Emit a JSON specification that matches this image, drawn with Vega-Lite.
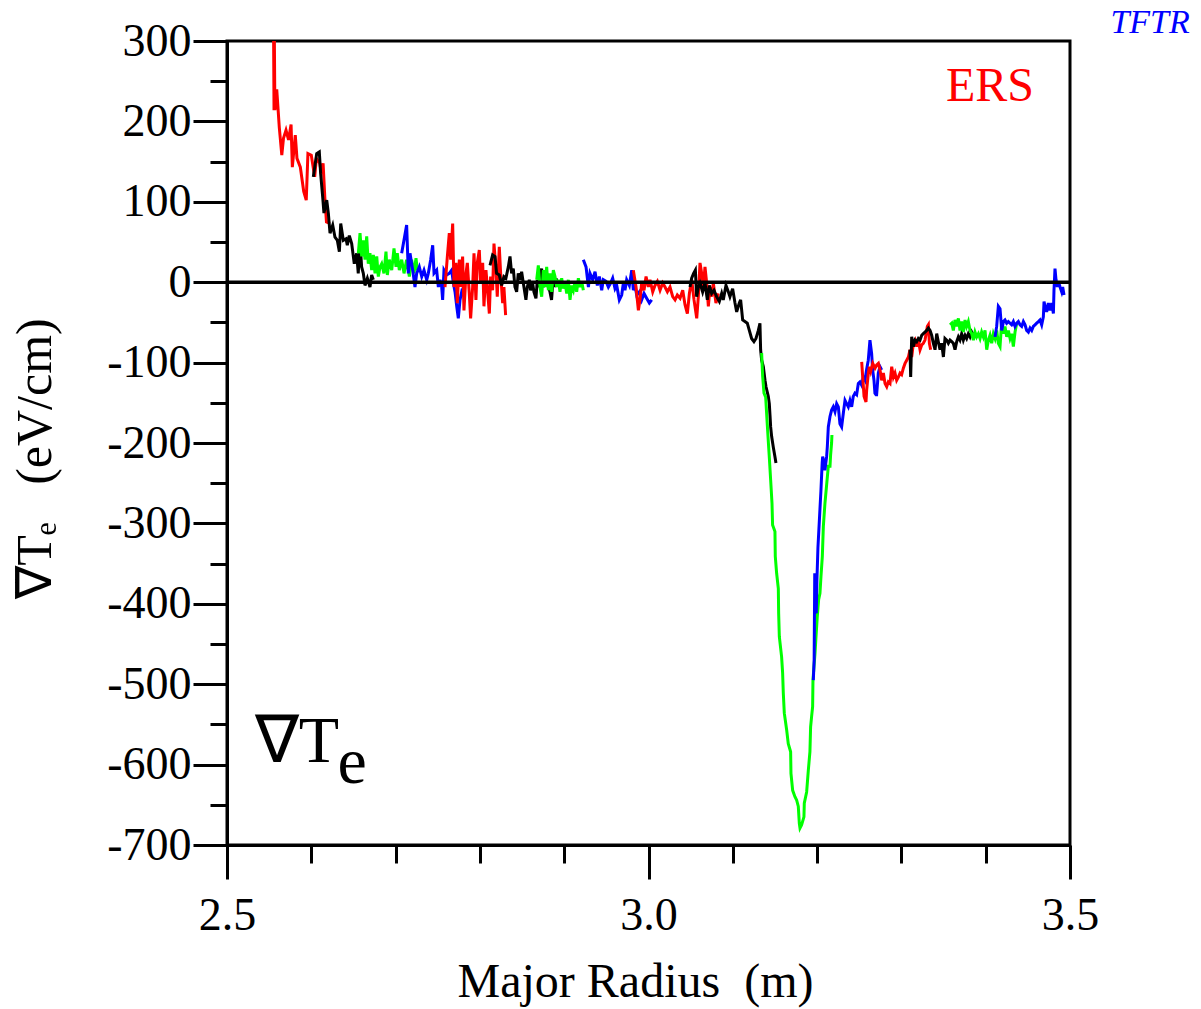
{
"$schema":"https://vega.github.io/schema/vega-lite/v6.json",
"width":843,"height":804,
"autosize":{"type":"none"},
"padding":{"left":227,"top":41,"right":131,"bottom":164},
"background":"white",
"config":{"view":{"stroke":"black","strokeWidth":3},"font":"Liberation Serif"},
"datasets":{"prof":[
{"seg":1,"chord":"a","R":2.5553,"dTe":300},{"seg":1,"chord":"a","R":2.5558,"dTe":214},{"seg":1,"chord":"a","R":2.5562,"dTe":300},{"seg":1,"chord":"a","R":2.5568,"dTe":214},{"seg":1,"chord":"a","R":2.559,"dTe":240},{"seg":1,"chord":"a","R":2.562,"dTe":193},{"seg":1,"chord":"a","R":2.565,"dTe":158},{"seg":1,"chord":"a","R":2.567,"dTe":179},{"seg":1,"chord":"a","R":2.570,"dTe":189},{"seg":1,"chord":"a","R":2.573,"dTe":177},{"seg":1,"chord":"a","R":2.576,"dTe":196},{"seg":1,"chord":"a","R":2.5775,"dTe":143},{"seg":1,"chord":"a","R":2.581,"dTe":183},{"seg":1,"chord":"a","R":2.583,"dTe":154},{"seg":1,"chord":"a","R":2.587,"dTe":143},{"seg":1,"chord":"a","R":2.591,"dTe":113},{"seg":1,"chord":"a","R":2.594,"dTe":102},{"seg":1,"chord":"a","R":2.596,"dTe":160},{"seg":1,"chord":"a","R":2.600,"dTe":158},{"seg":1,"chord":"a","R":2.604,"dTe":131},{"seg":1,"chord":"a","R":2.606,"dTe":154},{"seg":1,"chord":"a","R":2.610,"dTe":148},{"seg":1,"chord":"a","R":2.612,"dTe":135},{"seg":1,"chord":"a","R":2.614,"dTe":148},{"seg":1,"chord":"a","R":2.616,"dTe":106},{"seg":1,"chord":"a","R":2.618,"dTe":75},{"seg":1,"chord":"a","R":2.622,"dTe":73},
{"seg":2,"chord":"b","R":2.6024,"dTe":131},{"seg":2,"chord":"b","R":2.6064,"dTe":160},{"seg":2,"chord":"b","R":2.6095,"dTe":162},{"seg":2,"chord":"b","R":2.6111,"dTe":135},{"seg":2,"chord":"b","R":2.6135,"dTe":106},{"seg":2,"chord":"b","R":2.615,"dTe":86},{"seg":2,"chord":"b","R":2.6183,"dTe":102},{"seg":2,"chord":"b","R":2.6202,"dTe":86},{"seg":2,"chord":"b","R":2.6222,"dTe":61},{"seg":2,"chord":"b","R":2.6254,"dTe":71},{"seg":2,"chord":"b","R":2.6281,"dTe":56},{"seg":2,"chord":"b","R":2.6309,"dTe":52},{"seg":2,"chord":"b","R":2.6333,"dTe":38},{"seg":2,"chord":"b","R":2.6349,"dTe":73},{"seg":2,"chord":"b","R":2.638,"dTe":52},{"seg":2,"chord":"b","R":2.6412,"dTe":54},{"seg":2,"chord":"b","R":2.6427,"dTe":46},{"seg":2,"chord":"b","R":2.6451,"dTe":58},{"seg":2,"chord":"b","R":2.6479,"dTe":48},{"seg":2,"chord":"b","R":2.651,"dTe":23},{"seg":2,"chord":"b","R":2.6538,"dTe":36},{"seg":2,"chord":"b","R":2.6557,"dTe":11},{"seg":2,"chord":"b","R":2.6578,"dTe":50},{"seg":2,"chord":"b","R":2.6597,"dTe":19},{"seg":2,"chord":"b","R":2.6617,"dTe":11},{"seg":2,"chord":"b","R":2.6637,"dTe":-4},{"seg":2,"chord":"b","R":2.6665,"dTe":5},{"seg":2,"chord":"b","R":2.6696,"dTe":-6},{"seg":2,"chord":"b","R":2.6716,"dTe":9},{"seg":2,"chord":"b","R":2.6736,"dTe":3},
{"seg":3,"chord":"c","R":2.6558,"dTe":36},{"seg":3,"chord":"c","R":2.6578,"dTe":61},{"seg":3,"chord":"c","R":2.6598,"dTe":32},{"seg":3,"chord":"c","R":2.6617,"dTe":52},{"seg":3,"chord":"c","R":2.6637,"dTe":28},{"seg":3,"chord":"c","R":2.6657,"dTe":57},{"seg":3,"chord":"c","R":2.6676,"dTe":23},{"seg":3,"chord":"c","R":2.6696,"dTe":36},{"seg":3,"chord":"c","R":2.6716,"dTe":15},{"seg":3,"chord":"c","R":2.6736,"dTe":34},{"seg":3,"chord":"c","R":2.6756,"dTe":11},{"seg":3,"chord":"c","R":2.6776,"dTe":32},{"seg":3,"chord":"c","R":2.6795,"dTe":7},{"seg":3,"chord":"c","R":2.6815,"dTe":19},{"seg":3,"chord":"c","R":2.6835,"dTe":23},{"seg":3,"chord":"c","R":2.6862,"dTe":11},{"seg":3,"chord":"c","R":2.6886,"dTe":38},{"seg":3,"chord":"c","R":2.6902,"dTe":9},{"seg":3,"chord":"c","R":2.6925,"dTe":28},{"seg":3,"chord":"c","R":2.6954,"dTe":15},{"seg":3,"chord":"c","R":2.6981,"dTe":42},{"seg":3,"chord":"c","R":2.7005,"dTe":19},{"seg":3,"chord":"c","R":2.702,"dTe":36},{"seg":3,"chord":"c","R":2.7044,"dTe":15},{"seg":3,"chord":"c","R":2.7072,"dTe":28},{"seg":3,"chord":"c","R":2.71,"dTe":11},{"seg":3,"chord":"c","R":2.7131,"dTe":28},{"seg":3,"chord":"c","R":2.7163,"dTe":7},{"seg":3,"chord":"c","R":2.719,"dTe":28},{"seg":3,"chord":"c","R":2.7218,"dTe":11},{"seg":3,"chord":"c","R":2.7242,"dTe":30},{"seg":3,"chord":"c","R":2.7258,"dTe":15},
{"seg":4,"chord":"d","R":2.7072,"dTe":36},{"seg":4,"chord":"d","R":2.7131,"dTe":71},{"seg":4,"chord":"d","R":2.7151,"dTe":11},{"seg":4,"chord":"d","R":2.7171,"dTe":36},{"seg":4,"chord":"d","R":2.7203,"dTe":15},{"seg":4,"chord":"d","R":2.723,"dTe":-6},{"seg":4,"chord":"d","R":2.725,"dTe":11},{"seg":4,"chord":"d","R":2.7281,"dTe":19},{"seg":4,"chord":"d","R":2.731,"dTe":7},{"seg":4,"chord":"d","R":2.7337,"dTe":15},{"seg":4,"chord":"d","R":2.7369,"dTe":3},{"seg":4,"chord":"d","R":2.7388,"dTe":11},{"seg":4,"chord":"d","R":2.7416,"dTe":28},{"seg":4,"chord":"d","R":2.744,"dTe":46},{"seg":4,"chord":"d","R":2.7456,"dTe":11},{"seg":4,"chord":"d","R":2.7487,"dTe":15},{"seg":4,"chord":"d","R":2.7507,"dTe":-6},{"seg":4,"chord":"d","R":2.7527,"dTe":3},{"seg":4,"chord":"d","R":2.7547,"dTe":-6},{"seg":4,"chord":"d","R":2.7558,"dTe":-22},{"seg":4,"chord":"d","R":2.7574,"dTe":15},{"seg":4,"chord":"d","R":2.7606,"dTe":9},{"seg":4,"chord":"d","R":2.7637,"dTe":11},{"seg":4,"chord":"d","R":2.7665,"dTe":15},{"seg":4,"chord":"d","R":2.7685,"dTe":-1},{"seg":4,"chord":"d","R":2.7705,"dTe":-12},{"seg":4,"chord":"d","R":2.7725,"dTe":-30},{"seg":4,"chord":"d","R":2.7744,"dTe":-45},{"seg":4,"chord":"d","R":2.7764,"dTe":-22},{"seg":4,"chord":"d","R":2.7784,"dTe":-12},{"seg":4,"chord":"d","R":2.7803,"dTe":-16},{"seg":4,"chord":"d","R":2.7823,"dTe":-18},
{"seg":5,"chord":"a","R":2.7586,"dTe":-6},{"seg":5,"chord":"a","R":2.7614,"dTe":32},{"seg":5,"chord":"a","R":2.7637,"dTe":61},{"seg":5,"chord":"a","R":2.7653,"dTe":28},{"seg":5,"chord":"a","R":2.7677,"dTe":73},{"seg":5,"chord":"a","R":2.7693,"dTe":-6},{"seg":5,"chord":"a","R":2.7716,"dTe":24},{"seg":5,"chord":"a","R":2.7732,"dTe":-26},{"seg":5,"chord":"a","R":2.7756,"dTe":28},{"seg":5,"chord":"a","R":2.7772,"dTe":-6},{"seg":5,"chord":"a","R":2.7795,"dTe":32},{"seg":5,"chord":"a","R":2.7811,"dTe":-35},{"seg":5,"chord":"a","R":2.7835,"dTe":11},{"seg":5,"chord":"a","R":2.7851,"dTe":24},{"seg":5,"chord":"a","R":2.7874,"dTe":-14},{"seg":5,"chord":"a","R":2.789,"dTe":-45},{"seg":5,"chord":"a","R":2.7914,"dTe":-6},{"seg":5,"chord":"a","R":2.793,"dTe":36},{"seg":5,"chord":"a","R":2.7953,"dTe":-22},{"seg":5,"chord":"a","R":2.7969,"dTe":24},{"seg":5,"chord":"a","R":2.7993,"dTe":40},{"seg":5,"chord":"a","R":2.8009,"dTe":-1},{"seg":5,"chord":"a","R":2.8033,"dTe":24},{"seg":5,"chord":"a","R":2.8048,"dTe":-30},{"seg":5,"chord":"a","R":2.8072,"dTe":15},{"seg":5,"chord":"a","R":2.8088,"dTe":-6},{"seg":5,"chord":"a","R":2.8112,"dTe":-39},{"seg":5,"chord":"a","R":2.8127,"dTe":7},{"seg":5,"chord":"a","R":2.8151,"dTe":-10},{"seg":5,"chord":"a","R":2.8167,"dTe":48},{"seg":5,"chord":"a","R":2.8191,"dTe":15},{"seg":5,"chord":"a","R":2.8206,"dTe":-18},{"seg":5,"chord":"a","R":2.823,"dTe":44},{"seg":5,"chord":"a","R":2.8246,"dTe":11},{"seg":5,"chord":"a","R":2.827,"dTe":-26},{"seg":5,"chord":"a","R":2.8285,"dTe":-6},{"seg":5,"chord":"a","R":2.8305,"dTe":-41},
{"seg":6,"chord":"b","R":2.812,"dTe":21},{"seg":6,"chord":"b","R":2.8151,"dTe":34},{"seg":6,"chord":"b","R":2.8179,"dTe":32},{"seg":6,"chord":"b","R":2.8198,"dTe":11},{"seg":6,"chord":"b","R":2.823,"dTe":9},{"seg":6,"chord":"b","R":2.8258,"dTe":-4},{"seg":6,"chord":"b","R":2.8285,"dTe":7},{"seg":6,"chord":"b","R":2.8309,"dTe":5},{"seg":6,"chord":"b","R":2.8337,"dTe":19},{"seg":6,"chord":"b","R":2.8357,"dTe":32},{"seg":6,"chord":"b","R":2.8376,"dTe":11},{"seg":6,"chord":"b","R":2.8396,"dTe":17},{"seg":6,"chord":"b","R":2.8416,"dTe":-6},{"seg":6,"chord":"b","R":2.8436,"dTe":-12},{"seg":6,"chord":"b","R":2.8455,"dTe":11},{"seg":6,"chord":"b","R":2.8475,"dTe":3},{"seg":6,"chord":"b","R":2.8495,"dTe":13},{"seg":6,"chord":"b","R":2.8515,"dTe":-1},{"seg":6,"chord":"b","R":2.8546,"dTe":-22},{"seg":6,"chord":"b","R":2.8562,"dTe":-6},{"seg":6,"chord":"b","R":2.8586,"dTe":3},{"seg":6,"chord":"b","R":2.8601,"dTe":-10},{"seg":6,"chord":"b","R":2.8625,"dTe":-1},{"seg":6,"chord":"b","R":2.8641,"dTe":-12},{"seg":6,"chord":"b","R":2.8665,"dTe":-20},{"seg":6,"chord":"b","R":2.8681,"dTe":3},{"seg":6,"chord":"b","R":2.8704,"dTe":-6},{"seg":6,"chord":"b","R":2.8732,"dTe":17},{"seg":6,"chord":"b","R":2.8752,"dTe":-6},{"seg":6,"chord":"b","R":2.8771,"dTe":1},{"seg":6,"chord":"b","R":2.8791,"dTe":11},{"seg":6,"chord":"b","R":2.8811,"dTe":-6},{"seg":6,"chord":"b","R":2.8831,"dTe":-12},{"seg":6,"chord":"b","R":2.885,"dTe":-22},{"seg":6,"chord":"b","R":2.887,"dTe":7},{"seg":6,"chord":"b","R":2.889,"dTe":-6},{"seg":6,"chord":"b","R":2.891,"dTe":5},
{"seg":7,"chord":"c","R":2.8674,"dTe":3},{"seg":7,"chord":"c","R":2.8693,"dTe":21},{"seg":7,"chord":"c","R":2.8713,"dTe":-6},{"seg":7,"chord":"c","R":2.8733,"dTe":-18},{"seg":7,"chord":"c","R":2.8753,"dTe":15},{"seg":7,"chord":"c","R":2.8773,"dTe":-6},{"seg":7,"chord":"c","R":2.8792,"dTe":19},{"seg":7,"chord":"c","R":2.8812,"dTe":-10},{"seg":7,"chord":"c","R":2.8832,"dTe":11},{"seg":7,"chord":"c","R":2.8852,"dTe":-12},{"seg":7,"chord":"c","R":2.8871,"dTe":15},{"seg":7,"chord":"c","R":2.8891,"dTe":7},{"seg":7,"chord":"c","R":2.8911,"dTe":-6},{"seg":7,"chord":"c","R":2.8931,"dTe":3},{"seg":7,"chord":"c","R":2.895,"dTe":-12},{"seg":7,"chord":"c","R":2.897,"dTe":5},{"seg":7,"chord":"c","R":2.899,"dTe":-8},{"seg":7,"chord":"c","R":2.901,"dTe":-1},{"seg":7,"chord":"c","R":2.903,"dTe":-14},{"seg":7,"chord":"c","R":2.9049,"dTe":3},{"seg":7,"chord":"c","R":2.9069,"dTe":-22},{"seg":7,"chord":"c","R":2.9089,"dTe":-4},{"seg":7,"chord":"c","R":2.9109,"dTe":-10},{"seg":7,"chord":"c","R":2.9128,"dTe":1},{"seg":7,"chord":"c","R":2.9148,"dTe":-12},{"seg":7,"chord":"c","R":2.9168,"dTe":5},{"seg":7,"chord":"c","R":2.9188,"dTe":-6},{"seg":7,"chord":"c","R":2.9207,"dTe":1},{"seg":7,"chord":"c","R":2.9227,"dTe":-10},
{"seg":8,"chord":"d","R":2.9227,"dTe":28},{"seg":8,"chord":"d","R":2.9259,"dTe":19},{"seg":8,"chord":"d","R":2.9287,"dTe":-6},{"seg":8,"chord":"d","R":2.9306,"dTe":11},{"seg":8,"chord":"d","R":2.9338,"dTe":3},{"seg":8,"chord":"d","R":2.9366,"dTe":13},{"seg":8,"chord":"d","R":2.9393,"dTe":-4},{"seg":8,"chord":"d","R":2.9417,"dTe":7},{"seg":8,"chord":"d","R":2.9445,"dTe":-10},{"seg":8,"chord":"d","R":2.9464,"dTe":3},{"seg":8,"chord":"d","R":2.9496,"dTe":1},{"seg":8,"chord":"d","R":2.9524,"dTe":-6},{"seg":8,"chord":"d","R":2.9551,"dTe":-1},{"seg":8,"chord":"d","R":2.9575,"dTe":5},{"seg":8,"chord":"d","R":2.9603,"dTe":-8},{"seg":8,"chord":"d","R":2.9623,"dTe":-4},{"seg":8,"chord":"d","R":2.9654,"dTe":-22},{"seg":8,"chord":"d","R":2.9682,"dTe":-16},{"seg":8,"chord":"d","R":2.9702,"dTe":-1},{"seg":8,"chord":"d","R":2.9721,"dTe":-10},{"seg":8,"chord":"d","R":2.9741,"dTe":3},{"seg":8,"chord":"d","R":2.9773,"dTe":-4},{"seg":8,"chord":"d","R":2.9801,"dTe":15},{"seg":8,"chord":"d","R":2.982,"dTe":-10},{"seg":8,"chord":"d","R":2.984,"dTe":-4},{"seg":8,"chord":"d","R":2.986,"dTe":-16},{"seg":8,"chord":"d","R":2.9891,"dTe":-12},{"seg":8,"chord":"d","R":2.9919,"dTe":-22},{"seg":8,"chord":"d","R":2.9947,"dTe":-14},{"seg":8,"chord":"d","R":2.9978,"dTe":-20},{"seg":8,"chord":"d","R":3.001,"dTe":-26},{"seg":8,"chord":"d","R":3.0038,"dTe":-22},
{"seg":9,"chord":"a","R":2.982,"dTe":15},{"seg":9,"chord":"a","R":2.9852,"dTe":-6},{"seg":9,"chord":"a","R":2.988,"dTe":-35},{"seg":9,"chord":"a","R":2.9899,"dTe":-22},{"seg":9,"chord":"a","R":2.9919,"dTe":-1},{"seg":9,"chord":"a","R":2.9947,"dTe":-10},{"seg":9,"chord":"a","R":2.9971,"dTe":7},{"seg":9,"chord":"a","R":2.9998,"dTe":-6},{"seg":9,"chord":"a","R":3.0018,"dTe":3},{"seg":9,"chord":"a","R":3.005,"dTe":-12},{"seg":9,"chord":"a","R":3.0077,"dTe":-4},{"seg":9,"chord":"a","R":3.0105,"dTe":1},{"seg":9,"chord":"a","R":3.0137,"dTe":-10},{"seg":9,"chord":"a","R":3.0168,"dTe":-1},{"seg":9,"chord":"a","R":3.0196,"dTe":-6},{"seg":9,"chord":"a","R":3.0224,"dTe":-12},{"seg":9,"chord":"a","R":3.0255,"dTe":-6},{"seg":9,"chord":"a","R":3.0287,"dTe":-18},{"seg":9,"chord":"a","R":3.0315,"dTe":-22},{"seg":9,"chord":"a","R":3.0342,"dTe":-16},{"seg":9,"chord":"a","R":3.0374,"dTe":-20},{"seg":9,"chord":"a","R":3.0406,"dTe":-10},{"seg":9,"chord":"a","R":3.0433,"dTe":-28},{"seg":9,"chord":"a","R":3.0461,"dTe":-39},{"seg":9,"chord":"a","R":3.0485,"dTe":-14},{"seg":9,"chord":"a","R":3.0512,"dTe":3},{"seg":9,"chord":"a","R":3.054,"dTe":-22},{"seg":9,"chord":"a","R":3.0572,"dTe":-45},{"seg":9,"chord":"a","R":3.0591,"dTe":-18},{"seg":9,"chord":"a","R":3.0611,"dTe":24},{"seg":9,"chord":"a","R":3.0631,"dTe":11},{"seg":9,"chord":"a","R":3.0651,"dTe":-6},{"seg":9,"chord":"a","R":3.067,"dTe":19},{"seg":9,"chord":"a","R":3.069,"dTe":-1},{"seg":9,"chord":"a","R":3.071,"dTe":-30},{"seg":9,"chord":"a","R":3.073,"dTe":-6},{"seg":9,"chord":"a","R":3.0749,"dTe":-18},{"seg":9,"chord":"a","R":3.0769,"dTe":-1},{"seg":9,"chord":"a","R":3.08,"dTe":-26},{"seg":9,"chord":"a","R":3.0828,"dTe":-14},
{"seg":10,"chord":"b","R":3.0492,"dTe":-6},{"seg":10,"chord":"b","R":3.0512,"dTe":5},{"seg":10,"chord":"b","R":3.0535,"dTe":11},{"seg":10,"chord":"b","R":3.0556,"dTe":15},{"seg":10,"chord":"b","R":3.0571,"dTe":-18},{"seg":10,"chord":"b","R":3.0591,"dTe":-6},{"seg":10,"chord":"b","R":3.0611,"dTe":-1},{"seg":10,"chord":"b","R":3.0642,"dTe":-12},{"seg":10,"chord":"b","R":3.067,"dTe":-1},{"seg":10,"chord":"b","R":3.0698,"dTe":-22},{"seg":10,"chord":"b","R":3.0721,"dTe":-4},{"seg":10,"chord":"b","R":3.0749,"dTe":-14},{"seg":10,"chord":"b","R":3.0777,"dTe":-10},{"seg":10,"chord":"b","R":3.0808,"dTe":-18},{"seg":10,"chord":"b","R":3.084,"dTe":-24},{"seg":10,"chord":"b","R":3.0868,"dTe":-14},{"seg":10,"chord":"b","R":3.0887,"dTe":-22},{"seg":10,"chord":"b","R":3.0919,"dTe":-4},{"seg":10,"chord":"b","R":3.0947,"dTe":-12},{"seg":10,"chord":"b","R":3.0966,"dTe":-18},{"seg":10,"chord":"b","R":3.0998,"dTe":-8},{"seg":10,"chord":"b","R":3.1026,"dTe":-26},{"seg":10,"chord":"b","R":3.1046,"dTe":-37},{"seg":10,"chord":"b","R":3.1077,"dTe":-26},{"seg":10,"chord":"b","R":3.1093,"dTe":-22},{"seg":10,"chord":"b","R":3.1117,"dTe":-47},{"seg":10,"chord":"b","R":3.1144,"dTe":-49},{"seg":10,"chord":"b","R":3.1172,"dTe":-51},{"seg":10,"chord":"b","R":3.1196,"dTe":-60},{"seg":10,"chord":"b","R":3.1223,"dTe":-70},{"seg":10,"chord":"b","R":3.1251,"dTe":-74},{"seg":10,"chord":"b","R":3.1275,"dTe":-70},{"seg":10,"chord":"b","R":3.1303,"dTe":-60},{"seg":10,"chord":"b","R":3.1322,"dTe":-51},{"seg":10,"chord":"b","R":3.133,"dTe":-84},{"seg":10,"chord":"b","R":3.1342,"dTe":-97},{"seg":10,"chord":"b","R":3.1362,"dTe":-105},{"seg":10,"chord":"b","R":3.1382,"dTe":-122},{"seg":10,"chord":"b","R":3.1394,"dTe":-130},{"seg":10,"chord":"b","R":3.1421,"dTe":-142},{"seg":10,"chord":"b","R":3.1433,"dTe":-151},{"seg":10,"chord":"b","R":3.1441,"dTe":-165},{"seg":10,"chord":"b","R":3.1449,"dTe":-180},{"seg":10,"chord":"b","R":3.1461,"dTe":-192},{"seg":10,"chord":"b","R":3.148,"dTe":-205},{"seg":10,"chord":"b","R":3.15,"dTe":-217},{"seg":10,"chord":"b","R":3.1512,"dTe":-225},
{"seg":11,"chord":"c","R":3.1342,"dTe":-88},{"seg":11,"chord":"c","R":3.1354,"dTe":-117},{"seg":11,"chord":"c","R":3.137,"dTe":-138},{"seg":11,"chord":"c","R":3.139,"dTe":-143},{"seg":11,"chord":"c","R":3.1405,"dTe":-170},{"seg":11,"chord":"c","R":3.142,"dTe":-196},{"seg":11,"chord":"c","R":3.1435,"dTe":-221},{"seg":11,"chord":"c","R":3.1449,"dTe":-246},{"seg":11,"chord":"c","R":3.1465,"dTe":-275},{"seg":11,"chord":"c","R":3.1472,"dTe":-302},{"seg":11,"chord":"c","R":3.15,"dTe":-310},{"seg":11,"chord":"c","R":3.1504,"dTe":-341},{"seg":11,"chord":"c","R":3.152,"dTe":-362},{"seg":11,"chord":"c","R":3.154,"dTe":-381},{"seg":11,"chord":"c","R":3.1544,"dTe":-412},{"seg":11,"chord":"c","R":3.1552,"dTe":-441},{"seg":11,"chord":"c","R":3.1579,"dTe":-466},{"seg":11,"chord":"c","R":3.1591,"dTe":-486},{"seg":11,"chord":"c","R":3.1599,"dTe":-511},{"seg":11,"chord":"c","R":3.1611,"dTe":-536},{"seg":11,"chord":"c","R":3.1639,"dTe":-557},{"seg":11,"chord":"c","R":3.1658,"dTe":-574},{"seg":11,"chord":"c","R":3.1686,"dTe":-584},{"seg":11,"chord":"c","R":3.169,"dTe":-611},{"seg":11,"chord":"c","R":3.171,"dTe":-632},{"seg":11,"chord":"c","R":3.1737,"dTe":-640},{"seg":11,"chord":"c","R":3.1757,"dTe":-644},{"seg":11,"chord":"c","R":3.1777,"dTe":-652},{"seg":11,"chord":"c","R":3.1789,"dTe":-673},{"seg":11,"chord":"c","R":3.1797,"dTe":-679},{"seg":11,"chord":"c","R":3.1816,"dTe":-675},{"seg":11,"chord":"c","R":3.1844,"dTe":-665},{"seg":11,"chord":"c","R":3.1848,"dTe":-648},{"seg":11,"chord":"c","R":3.1876,"dTe":-634},{"seg":11,"chord":"c","R":3.1896,"dTe":-607},{"seg":11,"chord":"c","R":3.1915,"dTe":-584},{"seg":11,"chord":"c","R":3.1923,"dTe":-553},{"seg":11,"chord":"c","R":3.1935,"dTe":-540},{"seg":11,"chord":"c","R":3.1947,"dTe":-528},{"seg":11,"chord":"c","R":3.1951,"dTe":-495},{"seg":11,"chord":"c","R":3.1963,"dTe":-478},{"seg":11,"chord":"c","R":3.1975,"dTe":-462},{"seg":11,"chord":"c","R":3.1987,"dTe":-441},{"seg":11,"chord":"c","R":3.2002,"dTe":-416},{"seg":11,"chord":"c","R":3.2018,"dTe":-395},{"seg":11,"chord":"c","R":3.2034,"dTe":-387},{"seg":11,"chord":"c","R":3.2046,"dTe":-366},{"seg":11,"chord":"c","R":3.2062,"dTe":-341},{"seg":11,"chord":"c","R":3.2074,"dTe":-304},{"seg":11,"chord":"c","R":3.2093,"dTe":-275},{"seg":11,"chord":"c","R":3.2113,"dTe":-252},{"seg":11,"chord":"c","R":3.2133,"dTe":-229},{"seg":11,"chord":"c","R":3.2153,"dTe":-229},{"seg":11,"chord":"c","R":3.216,"dTe":-215},{"seg":11,"chord":"c","R":3.2172,"dTe":-200},{"seg":11,"chord":"c","R":3.2176,"dTe":-190},
{"seg":12,"chord":"d","R":3.1955,"dTe":-495},{"seg":12,"chord":"d","R":3.1965,"dTe":-470},{"seg":12,"chord":"d","R":3.1972,"dTe":-362},{"seg":12,"chord":"d","R":3.198,"dTe":-400},{"seg":12,"chord":"d","R":3.199,"dTe":-412},{"seg":12,"chord":"d","R":3.1998,"dTe":-370},{"seg":12,"chord":"d","R":3.201,"dTe":-330},{"seg":12,"chord":"d","R":3.203,"dTe":-290},{"seg":12,"chord":"d","R":3.2045,"dTe":-260},{"seg":12,"chord":"d","R":3.206,"dTe":-225},{"seg":12,"chord":"d","R":3.2066,"dTe":-217},{"seg":12,"chord":"d","R":3.208,"dTe":-222},{"seg":12,"chord":"d","R":3.2093,"dTe":-234},{"seg":12,"chord":"d","R":3.2113,"dTe":-217},{"seg":12,"chord":"d","R":3.2121,"dTe":-205},{"seg":12,"chord":"d","R":3.2133,"dTe":-180},{"seg":12,"chord":"d","R":3.2153,"dTe":-167},{"seg":12,"chord":"d","R":3.2172,"dTe":-159},{"seg":12,"chord":"d","R":3.2192,"dTe":-155},{"seg":12,"chord":"d","R":3.2212,"dTe":-161},{"seg":12,"chord":"d","R":3.2232,"dTe":-151},{"seg":12,"chord":"d","R":3.2252,"dTe":-155},{"seg":12,"chord":"d","R":3.2271,"dTe":-176},{"seg":12,"chord":"d","R":3.2291,"dTe":-180},{"seg":12,"chord":"d","R":3.2311,"dTe":-163},{"seg":12,"chord":"d","R":3.2331,"dTe":-147},{"seg":12,"chord":"d","R":3.235,"dTe":-151},{"seg":12,"chord":"d","R":3.237,"dTe":-155},{"seg":12,"chord":"d","R":3.239,"dTe":-147},{"seg":12,"chord":"d","R":3.241,"dTe":-155},{"seg":12,"chord":"d","R":3.2429,"dTe":-142},{"seg":12,"chord":"d","R":3.2449,"dTe":-138},{"seg":12,"chord":"d","R":3.2469,"dTe":-140},{"seg":12,"chord":"d","R":3.2489,"dTe":-126},{"seg":12,"chord":"d","R":3.2508,"dTe":-124},{"seg":12,"chord":"d","R":3.2528,"dTe":-128},{"seg":12,"chord":"d","R":3.2548,"dTe":-118},{"seg":12,"chord":"d","R":3.2568,"dTe":-122},{"seg":12,"chord":"d","R":3.2587,"dTe":-109},{"seg":12,"chord":"d","R":3.2607,"dTe":-97},{"seg":12,"chord":"d","R":3.2627,"dTe":-72},{"seg":12,"chord":"d","R":3.2647,"dTe":-89},{"seg":12,"chord":"d","R":3.2659,"dTe":-109},{"seg":12,"chord":"d","R":3.2675,"dTe":-122},{"seg":12,"chord":"d","R":3.2686,"dTe":-138},{"seg":12,"chord":"d","R":3.2699,"dTe":-140},{"seg":12,"chord":"d","R":3.2706,"dTe":-140},{"seg":12,"chord":"d","R":3.2726,"dTe":-113},{"seg":12,"chord":"d","R":3.2746,"dTe":-105},{"seg":12,"chord":"d","R":3.2766,"dTe":-109},
{"seg":13,"chord":"a","R":3.2529,"dTe":-99},{"seg":13,"chord":"a","R":3.2541,"dTe":-118},{"seg":13,"chord":"a","R":3.2557,"dTe":-142},{"seg":13,"chord":"a","R":3.258,"dTe":-149},{"seg":13,"chord":"a","R":3.2588,"dTe":-134},{"seg":13,"chord":"a","R":3.2608,"dTe":-113},{"seg":13,"chord":"a","R":3.262,"dTe":-105},{"seg":13,"chord":"a","R":3.2636,"dTe":-111},{"seg":13,"chord":"a","R":3.266,"dTe":-101},{"seg":13,"chord":"a","R":3.2687,"dTe":-107},{"seg":13,"chord":"a","R":3.2707,"dTe":-103},{"seg":13,"chord":"a","R":3.2727,"dTe":-101},{"seg":13,"chord":"a","R":3.2746,"dTe":-109},{"seg":13,"chord":"a","R":3.2766,"dTe":-122},{"seg":13,"chord":"a","R":3.2786,"dTe":-113},{"seg":13,"chord":"a","R":3.2806,"dTe":-126},{"seg":13,"chord":"a","R":3.2826,"dTe":-130},{"seg":13,"chord":"a","R":3.2845,"dTe":-124},{"seg":13,"chord":"a","R":3.2865,"dTe":-126},{"seg":13,"chord":"a","R":3.2885,"dTe":-105},{"seg":13,"chord":"a","R":3.2905,"dTe":-118},{"seg":13,"chord":"a","R":3.2924,"dTe":-113},{"seg":13,"chord":"a","R":3.2944,"dTe":-122},{"seg":13,"chord":"a","R":3.2964,"dTe":-118},{"seg":13,"chord":"a","R":3.2984,"dTe":-113},{"seg":13,"chord":"a","R":3.3003,"dTe":-115},{"seg":13,"chord":"a","R":3.3023,"dTe":-107},{"seg":13,"chord":"a","R":3.3043,"dTe":-101},{"seg":13,"chord":"a","R":3.3063,"dTe":-97},{"seg":13,"chord":"a","R":3.3083,"dTe":-93},{"seg":13,"chord":"a","R":3.3102,"dTe":-84},{"seg":13,"chord":"a","R":3.3122,"dTe":-93},{"seg":13,"chord":"a","R":3.3142,"dTe":-76},{"seg":13,"chord":"a","R":3.3162,"dTe":-72},{"seg":13,"chord":"a","R":3.3181,"dTe":-80},{"seg":13,"chord":"a","R":3.3201,"dTe":-72},{"seg":13,"chord":"a","R":3.3221,"dTe":-84},{"seg":13,"chord":"a","R":3.3241,"dTe":-78},{"seg":13,"chord":"a","R":3.326,"dTe":-76},{"seg":13,"chord":"a","R":3.328,"dTe":-72},{"seg":13,"chord":"a","R":3.3308,"dTe":-55},{"seg":13,"chord":"a","R":3.332,"dTe":-53},{"seg":13,"chord":"a","R":3.3332,"dTe":-76},{"seg":13,"chord":"a","R":3.3347,"dTe":-84},
{"seg":14,"chord":"b","R":3.3102,"dTe":-84},{"seg":14,"chord":"b","R":3.311,"dTe":-118},{"seg":14,"chord":"b","R":3.3122,"dTe":-68},{"seg":14,"chord":"b","R":3.3142,"dTe":-80},{"seg":14,"chord":"b","R":3.3162,"dTe":-72},{"seg":14,"chord":"b","R":3.3181,"dTe":-74},{"seg":14,"chord":"b","R":3.3201,"dTe":-70},{"seg":14,"chord":"b","R":3.3221,"dTe":-72},{"seg":14,"chord":"b","R":3.3241,"dTe":-66},{"seg":14,"chord":"b","R":3.326,"dTe":-64},{"seg":14,"chord":"b","R":3.328,"dTe":-62},{"seg":14,"chord":"b","R":3.33,"dTe":-60},{"seg":14,"chord":"b","R":3.332,"dTe":-57},{"seg":14,"chord":"b","R":3.334,"dTe":-60},{"seg":14,"chord":"b","R":3.3359,"dTe":-66},{"seg":14,"chord":"b","R":3.3379,"dTe":-76},{"seg":14,"chord":"b","R":3.3399,"dTe":-84},{"seg":14,"chord":"b","R":3.3419,"dTe":-64},{"seg":14,"chord":"b","R":3.3438,"dTe":-74},{"seg":14,"chord":"b","R":3.3458,"dTe":-84},{"seg":14,"chord":"b","R":3.3478,"dTe":-76},{"seg":14,"chord":"b","R":3.3498,"dTe":-93},{"seg":14,"chord":"b","R":3.3517,"dTe":-70},{"seg":14,"chord":"b","R":3.3537,"dTe":-72},{"seg":14,"chord":"b","R":3.3557,"dTe":-76},{"seg":14,"chord":"b","R":3.3577,"dTe":-72},{"seg":14,"chord":"b","R":3.3597,"dTe":-74},{"seg":14,"chord":"b","R":3.3616,"dTe":-76},{"seg":14,"chord":"b","R":3.3636,"dTe":-84},{"seg":14,"chord":"b","R":3.3656,"dTe":-74},{"seg":14,"chord":"b","R":3.3676,"dTe":-68},{"seg":14,"chord":"b","R":3.3695,"dTe":-72},{"seg":14,"chord":"b","R":3.3715,"dTe":-64},{"seg":14,"chord":"b","R":3.3735,"dTe":-72},{"seg":14,"chord":"b","R":3.3755,"dTe":-66},{"seg":14,"chord":"b","R":3.3774,"dTe":-70},{"seg":14,"chord":"b","R":3.3794,"dTe":-64},{"seg":14,"chord":"b","R":3.3814,"dTe":-68},{"seg":14,"chord":"b","R":3.3834,"dTe":-62},{"seg":14,"chord":"b","R":3.3854,"dTe":-66},{"seg":14,"chord":"b","R":3.3873,"dTe":-64},{"seg":14,"chord":"b","R":3.3893,"dTe":-68},
{"seg":15,"chord":"c","R":3.3577,"dTe":-53},{"seg":15,"chord":"c","R":3.3597,"dTe":-51},{"seg":15,"chord":"c","R":3.3616,"dTe":-60},{"seg":15,"chord":"c","R":3.3636,"dTe":-47},{"seg":15,"chord":"c","R":3.3656,"dTe":-55},{"seg":15,"chord":"c","R":3.3676,"dTe":-45},{"seg":15,"chord":"c","R":3.3695,"dTe":-60},{"seg":15,"chord":"c","R":3.3715,"dTe":-49},{"seg":15,"chord":"c","R":3.3735,"dTe":-62},{"seg":15,"chord":"c","R":3.3755,"dTe":-47},{"seg":15,"chord":"c","R":3.3774,"dTe":-55},{"seg":15,"chord":"c","R":3.3794,"dTe":-49},{"seg":15,"chord":"c","R":3.3814,"dTe":-60},{"seg":15,"chord":"c","R":3.3834,"dTe":-64},{"seg":15,"chord":"c","R":3.3854,"dTe":-72},{"seg":15,"chord":"c","R":3.3873,"dTe":-62},{"seg":15,"chord":"c","R":3.3893,"dTe":-68},{"seg":15,"chord":"c","R":3.3913,"dTe":-64},{"seg":15,"chord":"c","R":3.3933,"dTe":-70},{"seg":15,"chord":"c","R":3.3952,"dTe":-62},{"seg":15,"chord":"c","R":3.3972,"dTe":-68},{"seg":15,"chord":"c","R":3.3992,"dTe":-60},{"seg":15,"chord":"c","R":3.4012,"dTe":-84},{"seg":15,"chord":"c","R":3.4032,"dTe":-72},{"seg":15,"chord":"c","R":3.4051,"dTe":-66},{"seg":15,"chord":"c","R":3.4071,"dTe":-76},{"seg":15,"chord":"c","R":3.4091,"dTe":-64},{"seg":15,"chord":"c","R":3.4111,"dTe":-70},{"seg":15,"chord":"c","R":3.413,"dTe":-60},{"seg":15,"chord":"c","R":3.415,"dTe":-76},{"seg":15,"chord":"c","R":3.417,"dTe":-80},{"seg":15,"chord":"c","R":3.419,"dTe":-49},{"seg":15,"chord":"c","R":3.421,"dTe":-64},{"seg":15,"chord":"c","R":3.4229,"dTe":-55},{"seg":15,"chord":"c","R":3.4249,"dTe":-68},{"seg":15,"chord":"c","R":3.4269,"dTe":-60},{"seg":15,"chord":"c","R":3.4289,"dTe":-70},{"seg":15,"chord":"c","R":3.4308,"dTe":-64},{"seg":15,"chord":"c","R":3.4328,"dTe":-80},{"seg":15,"chord":"c","R":3.4348,"dTe":-62},{"seg":15,"chord":"c","R":3.4368,"dTe":-51},
{"seg":16,"chord":"d","R":3.4111,"dTe":-68},{"seg":16,"chord":"d","R":3.413,"dTe":-55},{"seg":16,"chord":"d","R":3.415,"dTe":-30},{"seg":16,"chord":"d","R":3.417,"dTe":-33},{"seg":16,"chord":"d","R":3.419,"dTe":-60},{"seg":16,"chord":"d","R":3.421,"dTe":-49},{"seg":16,"chord":"d","R":3.4229,"dTe":-47},{"seg":16,"chord":"d","R":3.4249,"dTe":-51},{"seg":16,"chord":"d","R":3.4269,"dTe":-49},{"seg":16,"chord":"d","R":3.4289,"dTe":-51},{"seg":16,"chord":"d","R":3.4308,"dTe":-53},{"seg":16,"chord":"d","R":3.4328,"dTe":-49},{"seg":16,"chord":"d","R":3.4348,"dTe":-55},{"seg":16,"chord":"d","R":3.4368,"dTe":-51},{"seg":16,"chord":"d","R":3.4387,"dTe":-49},{"seg":16,"chord":"d","R":3.4407,"dTe":-53},{"seg":16,"chord":"d","R":3.4427,"dTe":-55},{"seg":16,"chord":"d","R":3.4447,"dTe":-49},{"seg":16,"chord":"d","R":3.4467,"dTe":-53},{"seg":16,"chord":"d","R":3.4486,"dTe":-60},{"seg":16,"chord":"d","R":3.4506,"dTe":-62},{"seg":16,"chord":"d","R":3.4526,"dTe":-57},{"seg":16,"chord":"d","R":3.4546,"dTe":-60},{"seg":16,"chord":"d","R":3.4565,"dTe":-55},{"seg":16,"chord":"d","R":3.4585,"dTe":-53},{"seg":16,"chord":"d","R":3.4605,"dTe":-51},{"seg":16,"chord":"d","R":3.4625,"dTe":-49},{"seg":16,"chord":"d","R":3.4644,"dTe":-47},{"seg":16,"chord":"d","R":3.4664,"dTe":-53},{"seg":16,"chord":"d","R":3.4684,"dTe":-43},{"seg":16,"chord":"d","R":3.4692,"dTe":-24},{"seg":16,"chord":"d","R":3.4704,"dTe":-30},{"seg":16,"chord":"d","R":3.4723,"dTe":-37},{"seg":16,"chord":"d","R":3.4743,"dTe":-26},{"seg":16,"chord":"d","R":3.4763,"dTe":-35},{"seg":16,"chord":"d","R":3.4783,"dTe":-26},{"seg":16,"chord":"d","R":3.4803,"dTe":-39},{"seg":16,"chord":"d","R":3.481,"dTe":-10},{"seg":16,"chord":"d","R":3.4822,"dTe":17},{"seg":16,"chord":"d","R":3.4834,"dTe":3},{"seg":16,"chord":"d","R":3.485,"dTe":-6},{"seg":16,"chord":"d","R":3.4862,"dTe":1},{"seg":16,"chord":"d","R":3.4882,"dTe":-6},{"seg":16,"chord":"d","R":3.4901,"dTe":-12},{"seg":16,"chord":"d","R":3.4913,"dTe":-6},{"seg":16,"chord":"d","R":3.4929,"dTe":-16}
]},
"layer":[
{"data":{"name":"prof"},
 "mark":{"type":"line","strokeWidth":3,"clip":true},
 "encoding":{
  "x":{"field":"R","type":"quantitative","scale":{"domain":[2.5,3.5],"nice":false,"zero":false},
   "axis":{"values":[2.5,2.6,2.7,2.8,2.9,3.0,3.1,3.2,3.3,3.4,3.5],
    "tickSize":{"condition":{"test":"datum.value == 2.5 || datum.value == 3 || datum.value == 3.5","value":34},"value":18},
    "tickWidth":3,"tickColor":"black","domainWidth":3,"domainColor":"black","grid":false,
    "labelExpr":"(datum.value == 2.5 || datum.value == 3 || datum.value == 3.5) ? format(datum.value, '.1f') : ''",
    "labelFont":"Liberation Serif","labelFontSize":46,"labelColor":"black","labelPadding":14,"labelFlush":false,"labelOverlap":false,
    "title":"Major Radius\u00a0\u00a0(m)","titleFont":"Liberation Serif","titleFontSize":48,"titleFontWeight":"normal","titleColor":"black","titlePadding":20,"titleX":408}},
  "y":{"field":"dTe","type":"quantitative","scale":{"domain":[-700,300],"nice":false,"zero":false},
   "axis":{"values":[-700,-650,-600,-550,-500,-450,-400,-350,-300,-250,-200,-150,-100,-50,0,50,100,150,200,250,300],
    "tickSize":{"condition":{"test":"datum.value % 100 === 0","value":34},"value":17},
    "tickWidth":3,"tickColor":"black","domainWidth":3,"domainColor":"black","grid":false,
    "labelExpr":"datum.value % 100 === 0 ? '' + datum.value : ''",
    "labelFont":"Liberation Serif","labelFontSize":46,"labelColor":"black","labelPadding":2,"labelOverlap":false,"labelBound":false,"labelFlush":false,
    "title":"\u2207T\u2091\u00a0\u00a0\u00a0(eV/cm)","titleFont":"Liberation Serif","titleFontSize":50,"titleFontWeight":"normal","titleColor":"black","titlePadding":46,"titleY":417}},
  "color":{"field":"chord","type":"nominal","scale":{"domain":["a","b","c","d"],"range":["#ff0000","#000000","#00ff00","#0000ff"]},"legend":null},
  "detail":{"field":"seg","type":"nominal"}
 }},
{"data":{"values":[{}]},"mark":{"type":"rule","strokeWidth":3.5,"color":"black"},"encoding":{"y":{"datum":0}}},
{"data":{"values":[{}]},"mark":{"type":"text","font":"Liberation Serif","fontSize":48,"color":"#ff0000","align":"center","baseline":"alphabetic"},"encoding":{"x":{"datum":3.405},"y":{"datum":225},"text":{"value":"ERS"}}},
{"data":{"values":[{}]},"mark":{"type":"text","font":"Liberation Serif","fontSize":34,"fontStyle":"italic","color":"#0000ff","align":"center","baseline":"alphabetic"},"encoding":{"x":{"datum":3.595},"y":{"datum":310},"text":{"value":"TFTR"}}},
{"data":{"values":[{}]},"mark":{"type":"text","font":"Liberation Serif","fontSize":66,"color":"black","align":"left","baseline":"alphabetic"},"encoding":{"x":{"datum":2.533},"y":{"datum":-597},"text":{"value":"\u2207T"}}},
{"data":{"values":[{}]},"mark":{"type":"text","font":"Liberation Serif","fontSize":66,"color":"black","align":"left","baseline":"alphabetic"},"encoding":{"x":{"datum":2.631},"y":{"datum":-623},"text":{"value":"e"}}}
]
}
